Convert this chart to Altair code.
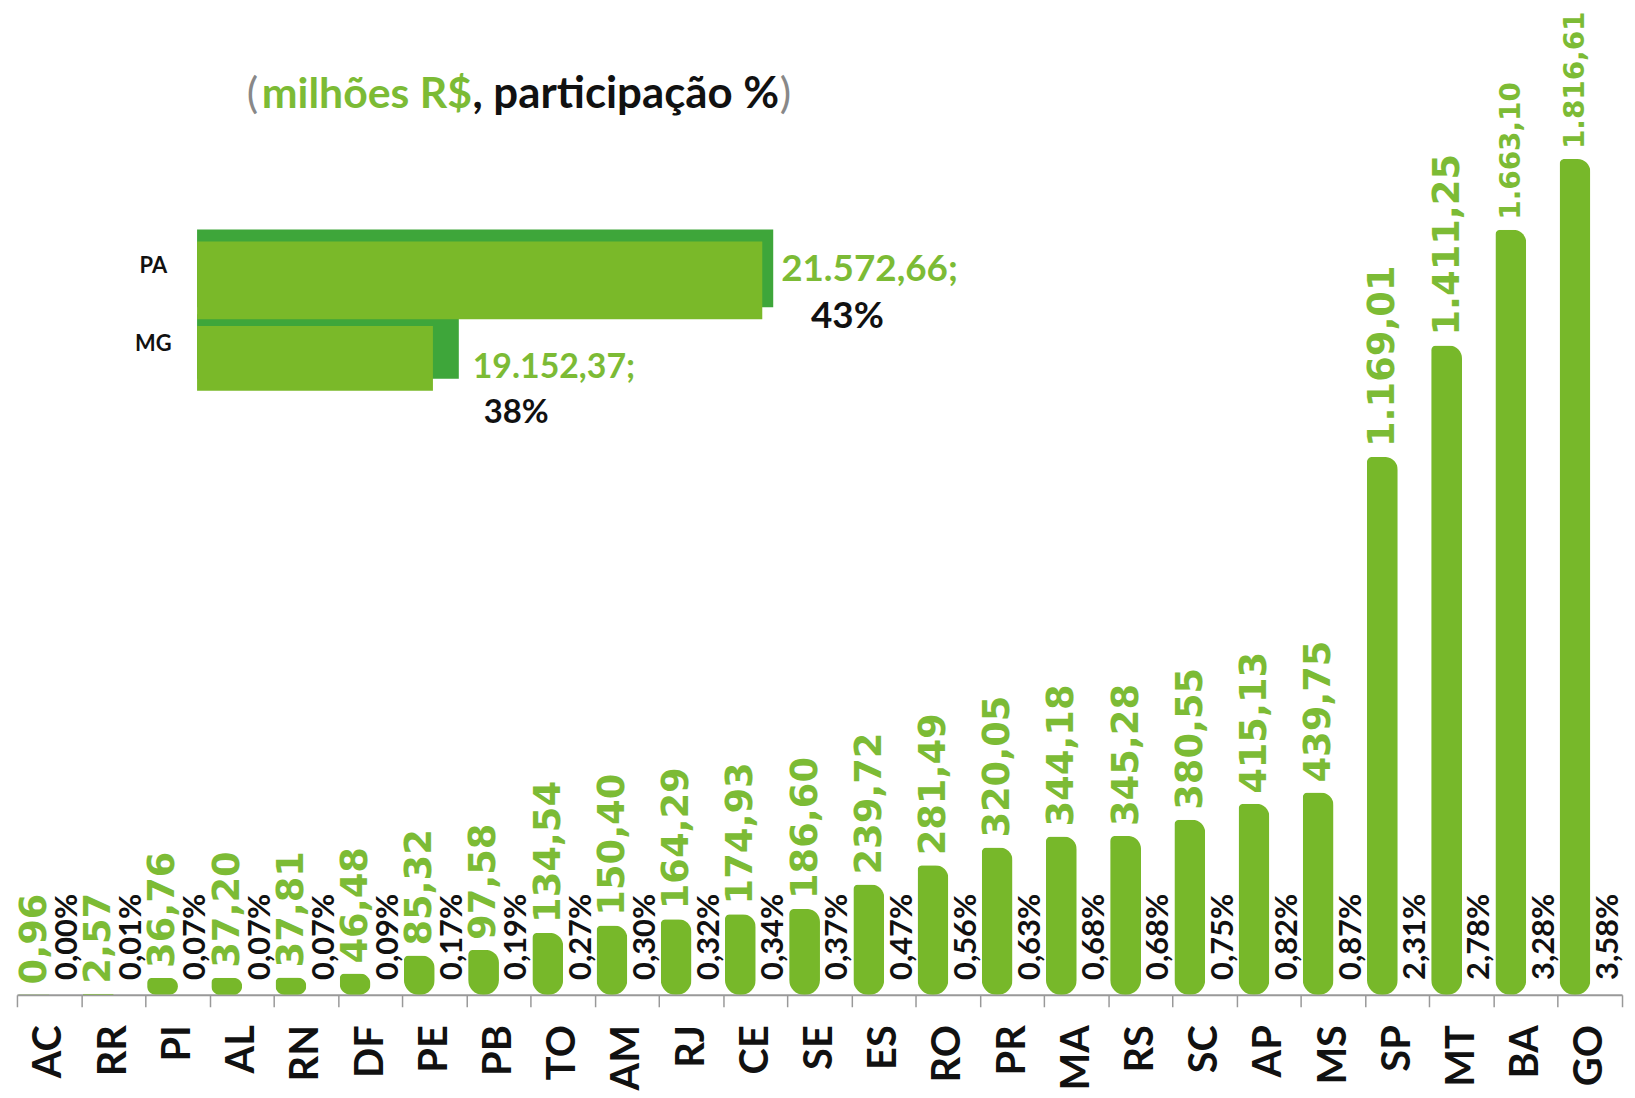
import altair as alt
import pandas as pd

# ---------------- data ----------------
states = ["AC", "RR", "PI", "AL", "RN", "DF", "PE", "PB", "TO", "AM", "RJ", "CE", "SE",
          "ES", "RO", "PR", "MA", "RS", "SC", "AP", "MS", "SP", "MT", "BA", "GO"]
values = [0.96, 2.57, 36.76, 37.20, 37.81, 46.48, 85.32, 97.58, 134.54, 150.40, 164.29,
          174.93, 186.60, 239.72, 281.49, 320.05, 344.18, 345.28, 380.55, 415.13, 439.75,
          1169.01, 1411.25, 1663.10, 1816.61]
shares = [0.00, 0.01, 0.07, 0.07, 0.07, 0.09, 0.17, 0.19, 0.27, 0.30, 0.32, 0.34, 0.37,
          0.47, 0.56, 0.63, 0.68, 0.68, 0.75, 0.82, 0.87, 2.31, 2.78, 3.28, 3.58]

inset_states = ["PA", "MG"]
inset_values = [21572.66, 19152.37]
inset_shares = [43, 38]

title_parts = ["(", "milhões R$", ", participação %", ")"]

Y_MAX = 2139
INSET_MIN = 17419


def br(v):
    s = f"{v:,.2f}"
    return s.replace(",", "_").replace(".", ",").replace("_", ".")


df = pd.DataFrame({
    "state": states,
    "value": values,
    "vlabel": [br(v) for v in values],
    "plabel": [f"{p:.2f}".replace(".", ",") + "%" for p in shares],
})

dfi = pd.DataFrame({
    "state": inset_states,
    "value": inset_values,
    "vlabel": [br(v) + ";" for v in inset_values],
    "plabel": [f"{p}%" for p in inset_shares],
})

GREEN = "#77b82a"
GREEN_TXT = "#7cbb35"
DARK = "#3ea63a"

xs = alt.Scale(domain=states, paddingInner=0, paddingOuter=0)
ys = alt.Scale(domain=[0, Y_MAX], nice=False, zero=True)
xaxis = alt.Axis(title=None, labelAngle=270, labelFont="Lato", labelFontWeight="bold",
                 labelFontSize=40, labelColor="#111", tickBand="extent", tickSize=12,
                 tickColor="#999", tickWidth=1.5, domainColor="#999", domainWidth=2,
                 labelPadding=18, grid=False)
X = alt.X("state:N", scale=xs, sort=states, axis=xaxis)

base = alt.Chart(df)

bars = base.mark_bar(
    width=31, xOffset=-15, color=GREEN,
    cornerRadiusTopLeft=5, cornerRadiusTopRight=13,
    cornerRadiusBottomLeft=15, cornerRadiusBottomRight=15,
).encode(
    x=X,
    y=alt.Y("value:Q", scale=ys, axis=None),
)

vals = base.mark_text(
    angle=270, align="left", baseline="middle", dx=10, xOffset=-14,
    font="DejaVu Sans", fontWeight="bold", color=GREEN_TXT,
).encode(
    x=X,
    y=alt.Y("value:Q", scale=ys, axis=None),
    text="vlabel:N",
    size=alt.condition("datum.value > 1500", alt.value(28), alt.value(37)),
)

pcts = base.mark_text(
    angle=270, align="left", baseline="middle", dx=15, xOffset=19,
    font="Lato", fontWeight="bold", fontSize=31, color="#111",
).encode(
    x=X,
    y=alt.datum(0, scale=ys, axis=None),
    text="plabel:N",
)

main = alt.layer(bars, vals, pcts)

# ---------------- inset ----------------
ixs = alt.Scale(domain=[INSET_MIN, inset_values[0]], range=[181, 749], nice=False, zero=False)
iys = alt.Scale(domain=inset_states, range=[231.75, 388.75], paddingInner=0, paddingOuter=0)
IY = alt.Y("state:N", scale=iys, sort=inset_states, axis=None)
IX = alt.X("value:Q", scale=ixs, axis=None)
ISIZE = alt.condition("datum.state == 'PA'", alt.value(78), alt.value(65))

ibase = alt.Chart(dfi)


def back(st, xo):
    return ibase.transform_filter(alt.datum.state == st).mark_bar(
        color=DARK, yOffset=-12, xOffset=xo).encode(
        x=IX, x2=alt.datum(INSET_MIN), y=IY, size=ISIZE)


ifront = ibase.mark_bar(color="#7ab929").encode(
    x=IX, x2=alt.datum(INSET_MIN), y=IY, size=ISIZE)

inames = ibase.mark_text(font="Lato", fontWeight="bold", fontSize=22, color="#111",
                         align="center", baseline="middle", dy=-14).encode(
    x=alt.value(137), y=IY, text="state:N",
)


def inset_labels(st, fs1, fs2, vdx, vdy, pdx, pdy):
    b = ibase.transform_filter(alt.datum.state == st)
    v = b.mark_text(font="Lato", fontWeight="bold", fontSize=fs1, color=GREEN_TXT,
                    align="left", baseline="middle", dx=vdx, dy=vdy).encode(
        x=IX, y=IY, text="vlabel:N")
    p = b.mark_text(font="Lato", fontWeight="bold", fontSize=fs2, color="#111",
                    align="left", baseline="middle", dx=pdx, dy=pdy).encode(
        x=IX, y=IY, text="plabel:N")
    return v + p


inset = alt.layer(back("PA", 11), back("MG", 26), ifront, inames,
                  inset_labels("PA", 37, 37, 19, -10, 49, 37),
                  inset_labels("MG", 34, 33, 40, 10, 51, 55))

# ---------------- title pieces ----------------
tdf = pd.DataFrame({"t": title_parts})
tb = alt.Chart(tdf)
TY = 98
t1 = tb.transform_filter(alt.datum.t == title_parts[0]).mark_text(
    align="left", color="#888", font="Lato", fontSize=43, baseline="alphabetic"
).encode(x=alt.value(231), y=alt.value(TY), text="t:N")
t2 = tb.transform_filter(alt.datum.t == title_parts[1]).mark_text(
    align="left", color=GREEN_TXT, font="Lato", fontWeight="bold", fontSize=43,
    baseline="alphabetic").encode(x=alt.value(246), y=alt.value(TY), text="t:N")
t3 = tb.transform_filter(alt.datum.t == title_parts[2]).mark_text(
    align="right", color="#111", font="Lato", fontWeight="bold", fontSize=44,
    baseline="alphabetic").encode(x=alt.value(766), y=alt.value(TY), text="t:N")
t4 = tb.transform_filter(alt.datum.t == title_parts[3]).mark_text(
    align="right", color="#888", font="Lato", fontSize=43, baseline="alphabetic"
).encode(x=alt.value(778), y=alt.value(TY), text="t:N")
titles = alt.layer(t1, t2, t3, t4)

chart = alt.layer(main, inset, titles).resolve_scale(
    x="independent", y="independent"
).properties(
    width=1613, height=989,
    autosize=alt.AutoSizeParams(type="none"),
    padding={"left": 9, "top": 0, "right": 5, "bottom": 100},
    background="white",
).configure_view(strokeWidth=0, stroke="transparent")

chart.save("out.html", embed_options={"renderer": "svg", "actions": False})
